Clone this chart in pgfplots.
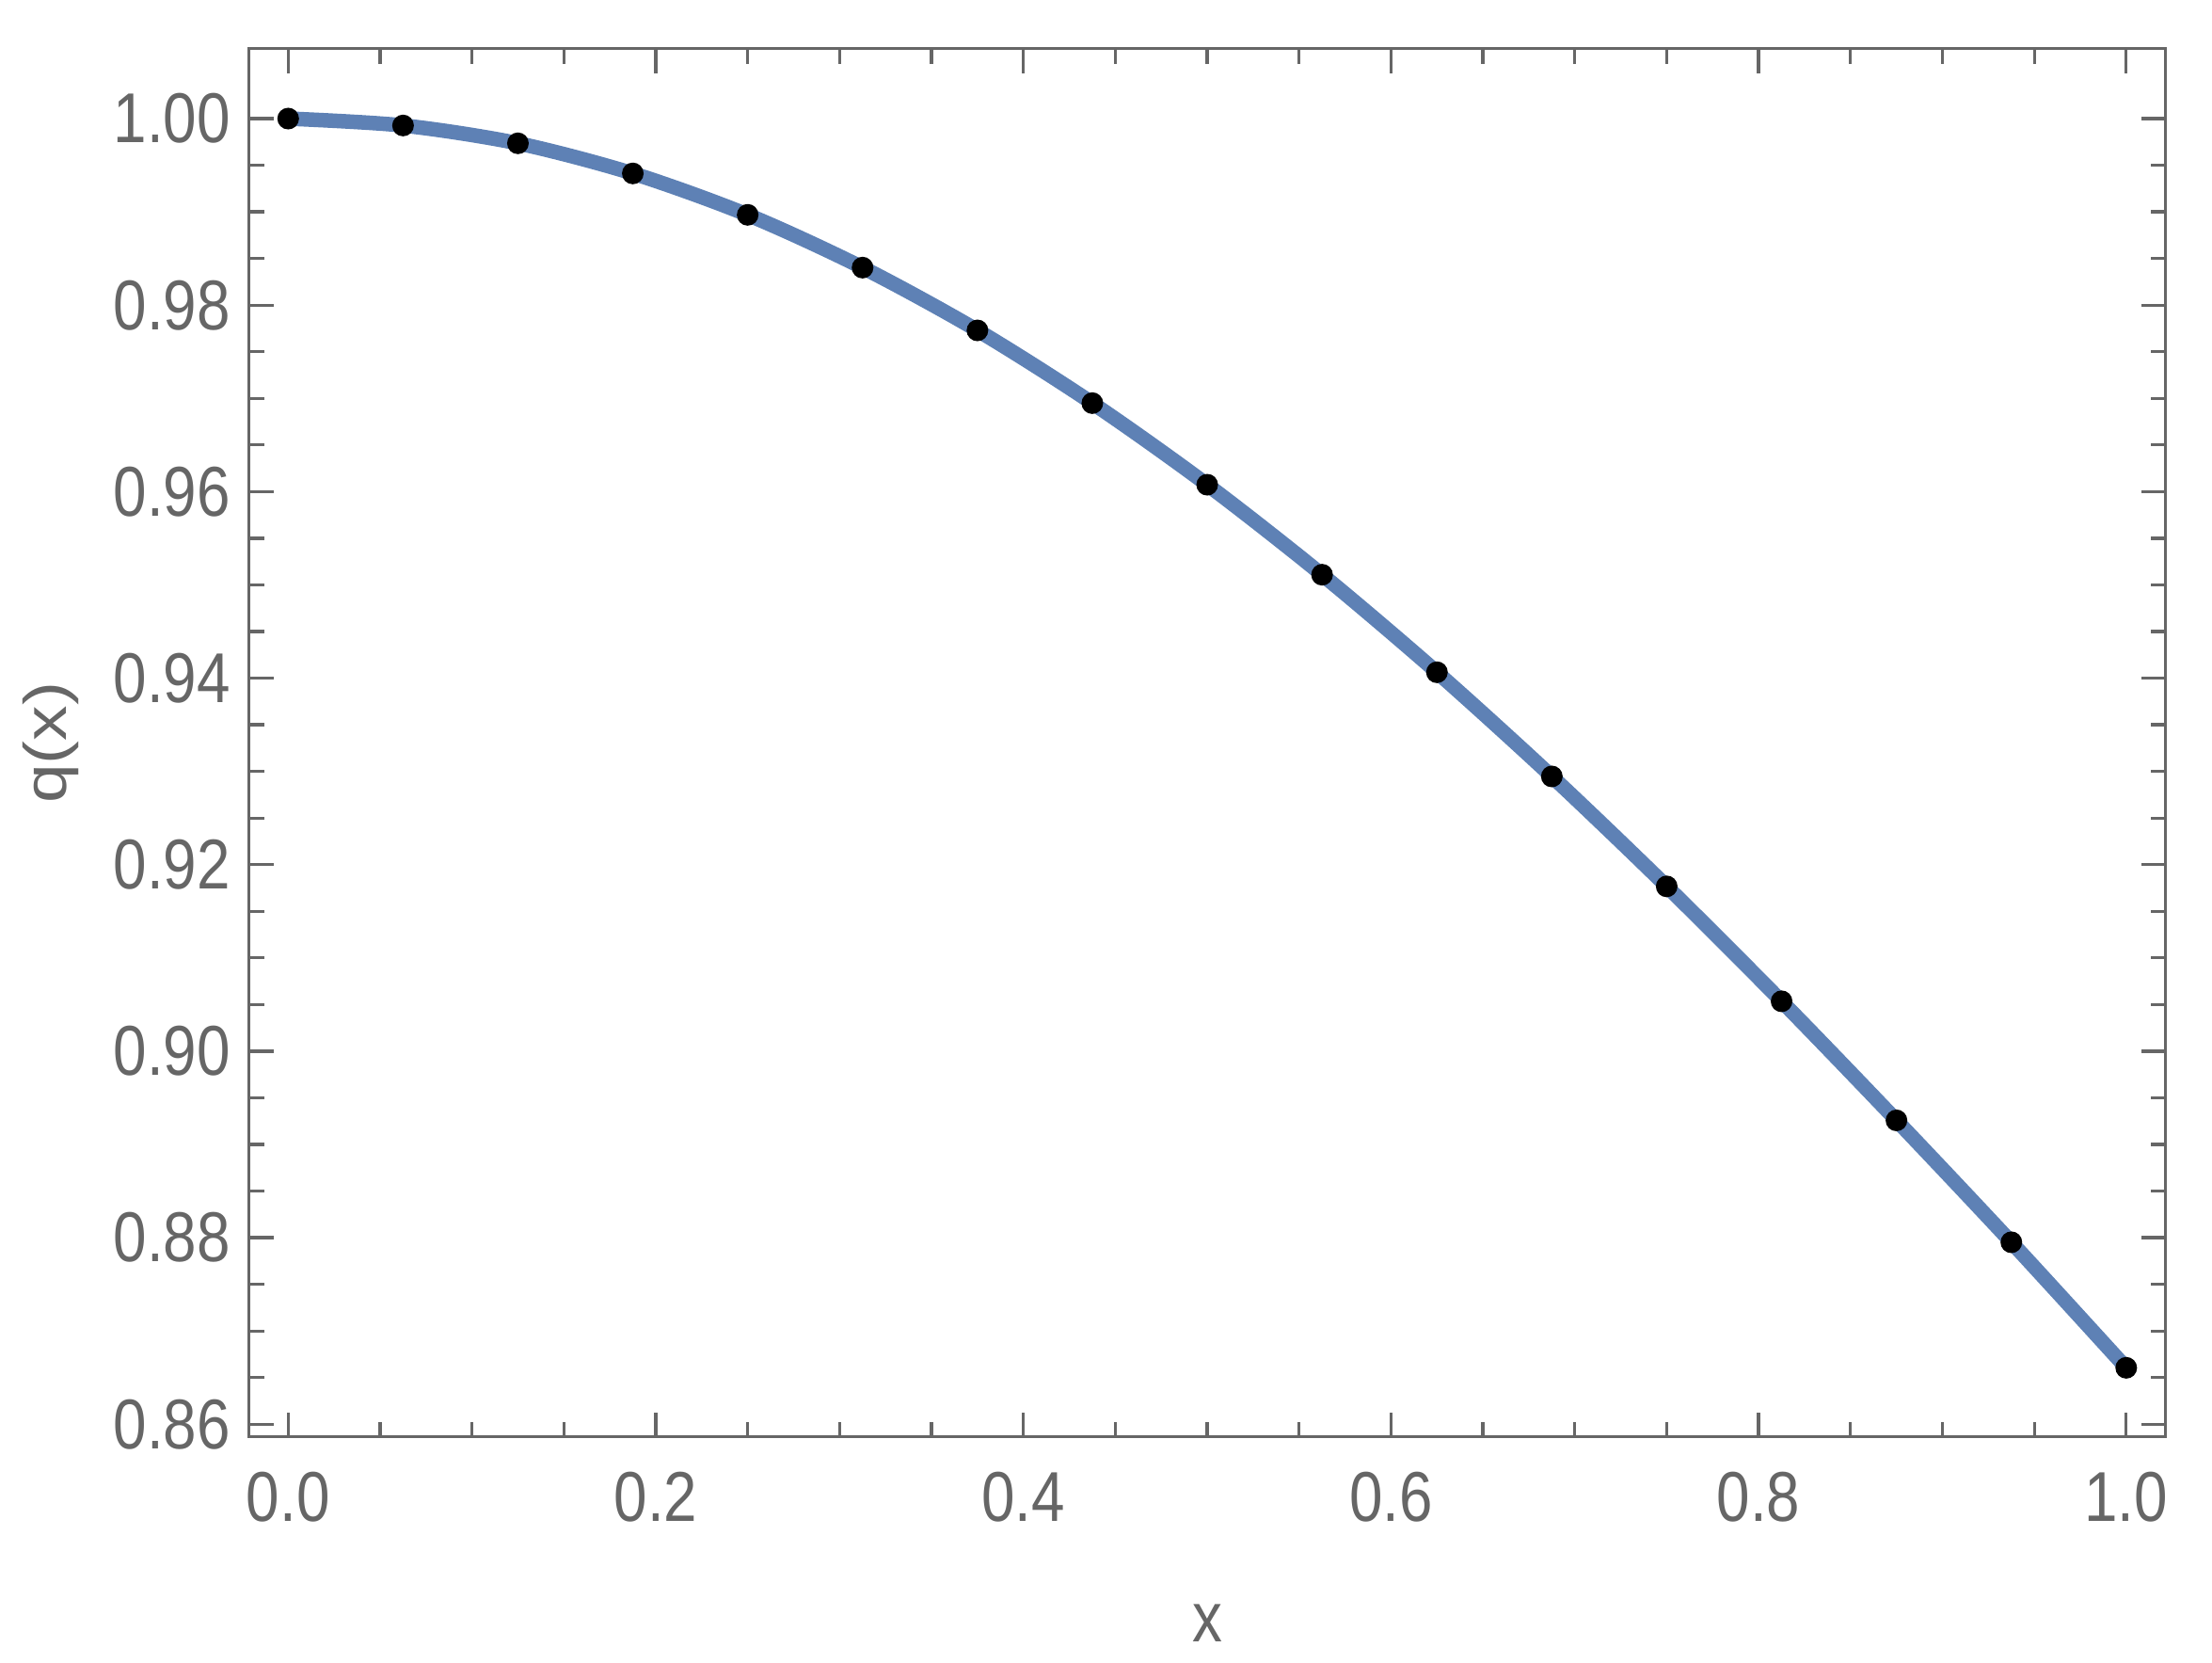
\documentclass[border=0pt]{standalone}
\usepackage{pgfplots}
\pgfplotsset{compat=1.18}
\usepackage{pgfplotstable}
\usepackage{fontspec}
\setmainfont{Liberation Sans}[FakeStretch=0.85]
\newfontfamily\plainfont{Liberation Sans}
\definecolor{mgray}{HTML}{666666}
\definecolor{mblue}{RGB}{94,129,181}
\pgfplotstableread{
x y
0.0000 1.00000
0.0625 0.99926
0.1250 0.99735
0.1875 0.99412
0.2500 0.98968
0.3125 0.98402
0.3750 0.97729
0.4375 0.96949
0.5000 0.96074
0.5625 0.95109
0.6250 0.94063
0.6875 0.92946
0.7500 0.91767
0.8125 0.90535
0.8750 0.89258
0.9375 0.87951
1.0000 0.86605
}\data
\begin{document}
\begin{tikzpicture}
\begin{axis}[
  scale only axis, width=407.4pt, height=295pt,
  xmin=-0.02124, xmax=1.02145, ymin=0.85865, ymax=1.0075,
  axis line style={mgray, line width=0.66pt},
  every tick/.style={mgray, line width=0.66pt},
  major tick length=5.2pt, minor tick length=3.2pt,
  tick align=inside,
  xtick={0,0.2,0.4,0.6,0.8,1.0},
  ytick={0.86,0.88,0.90,0.92,0.94,0.96,0.98,1.00},
  minor x tick num=3, minor y tick num=3,
  /pgf/number format/assume math mode=true,
  tick label style={font=\fontsize{15}{18}\selectfont, text=mgray},
  xticklabel style={/pgf/number format/.cd, fixed, fixed zerofill, precision=1, /tikz/.cd, anchor=north, inner sep=0pt, yshift=-7.2pt},
  yticklabel style={/pgf/number format/.cd, fixed, fixed zerofill, precision=2, /tikz/.cd, anchor=east, inner sep=0pt, xshift=-3.8pt},
  label style={font=\fontsize{15}{18}\selectfont, text=mgray, inner sep=0pt},
  xlabel={x},
  xlabel style={at={(axis description cs:0.5,-0.1477)}, anchor=base},
  ylabel={\scalebox{1}[0.85]{\plainfont q(x)}},
  ylabel style={at={(axis description cs:-0.0956,0.5)}, rotate=0, anchor=base},
  clip=false,
]
\addplot[mblue, line width=3.1pt, smooth, no markers] table {\data};
\addplot[only marks, mark=*, mark size=2.1pt, black, mark options={fill=black}] table {\data};
\end{axis}
\pgfresetboundingbox
\path[use as bounding box] ([xshift=-52.96pt,yshift=-48.06pt]current axis.south west) rectangle ([xshift=9.86pt,yshift=10.34pt]current axis.north east);
\end{tikzpicture}
\end{document}
